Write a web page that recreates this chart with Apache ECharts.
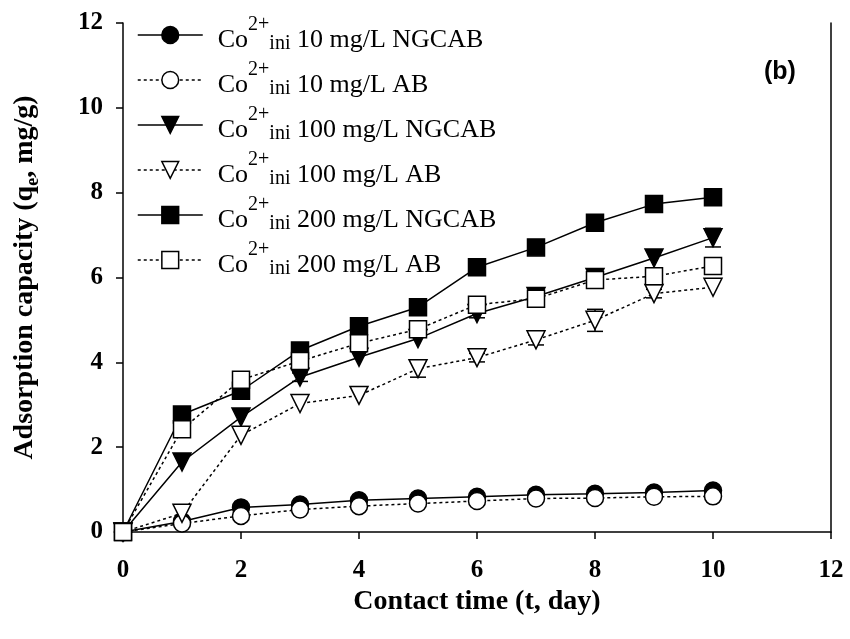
<!DOCTYPE html>
<html>
<head>
<meta charset="utf-8">
<script src="https://cdn.jsdelivr.net/npm/echarts@6/dist/echarts.min.js"></script>
<style>
html,body{margin:0;padding:0;background:#fff;}
#chart{width:850px;height:639px;}
</style>
</head>
<body>
<div id="chart"></div>
<script>
// ---- data ----
var days = [0, 1, 2, 3, 4, 5, 6, 7, 8, 9, 10];
var xTicks = [0, 2, 4, 6, 8, 10, 12];
var yTicks = [0, 2, 4, 6, 8, 10, 12];
var seriesNames = [
  'Co2+ini 10 mg/L NGCAB',
  'Co2+ini 10 mg/L AB',
  'Co2+ini 100 mg/L NGCAB',
  'Co2+ini 100 mg/L AB',
  'Co2+ini 200 mg/L NGCAB',
  'Co2+ini 200 mg/L AB'
];
var co10NGCAB  = [0, 0.25, 0.58, 0.65, 0.75, 0.79, 0.83, 0.88, 0.90, 0.93, 0.98];
var co10AB     = [0, 0.20, 0.38, 0.53, 0.61, 0.67, 0.73, 0.79, 0.80, 0.83, 0.84];
var co100NGCAB = [0, 1.65, 2.71, 3.65, 4.12, 4.56, 5.15, 5.55, 6.00, 6.46, 6.94];
var co100AB    = [0, 0.44, 2.28, 3.03, 3.22, 3.85, 4.11, 4.53, 4.99, 5.62, 5.77];
var co200NGCAB = [0, 2.77, 3.33, 4.28, 4.85, 5.30, 6.24, 6.71, 7.29, 7.73, 7.89];
var co200AB    = [0, 2.42, 3.59, 4.03, 4.45, 4.78, 5.36, 5.50, 5.94, 6.03, 6.27];
// error bars (only those visible in the figure)
var err100NGCAB = [0, 0, 0, 0.10, 0, 0, 0.10, 0, 0, 0, 0.22];
var err100AB    = [0, 0, 0, 0, 0, 0.20, 0.10, 0.12, 0.26, 0.10, 0];

var values = [co10NGCAB, co10AB, co100NGCAB, co100AB, co200NGCAB, co200AB];
var symbols = ['circle', 'circle', 'triangle', 'triangle', 'rect', 'rect'];
var filled = [true, false, true, false, true, false];
var rotations = [0, 0, 180, 180, 0, 0];
var sizes = [17, 17, 18, 18, 17, 17];

var serif = "'Liberation Serif','Times New Roman',serif";

function pairs(arr) { return days.map(function (d, i) { return [d, arr[i]]; }); }

var series = values.map(function (arr, k) {
  return {
    name: seriesNames[k],
    type: 'line',
    data: pairs(arr),
    symbol: symbols[k],
    symbolSize: sizes[k],
    symbolRotate: rotations[k],
    showAllSymbol: true,
    z: 3 + k,
    lineStyle: { color: '#000', width: 1.5, type: filled[k] ? 'solid' : [3, 3] },
    itemStyle: { color: filled[k] ? '#000' : '#fff', borderColor: '#000', borderWidth: 1.5 },
    emphasis: { disabled: true }
  };
});

var errData = [];
days.forEach(function (d, i) {
  if (err100NGCAB[i] > 0) errData.push([d, co100NGCAB[i], err100NGCAB[i]]);
  if (err100AB[i] > 0) errData.push([d, co100AB[i], err100AB[i]]);
});

series.push({
  type: 'custom',
  z: 2,
  data: errData,
  silent: true,
  renderItem: function (params, api) {
    var x = api.value(0), y = api.value(1), e = api.value(2);
    var t = api.coord([x, y + e]);
    var b = api.coord([x, y - e]);
    var w = 8;
    var st = { stroke: '#000', lineWidth: 1.5 };
    return {
      type: 'group',
      children: [
        { type: 'line', shape: { x1: t[0], y1: t[1], x2: b[0], y2: b[1] }, style: st },
        { type: 'line', shape: { x1: t[0] - w, y1: t[1], x2: t[0] + w, y2: t[1] }, style: st },
        { type: 'line', shape: { x1: b[0] - w, y1: b[1], x2: b[0] + w, y2: b[1] }, style: st }
      ]
    };
  }
});

var chart = echarts.init(document.getElementById('chart'), null, { renderer: 'canvas' });
chart.setOption({
  animation: false,
  backgroundColor: '#fff',
  grid: { left: 123, right: 19, top: 23, bottom: 107 },
  xAxis: {
    type: 'value',
    min: xTicks[0], max: xTicks[xTicks.length - 1], interval: xTicks[1] - xTicks[0],
    name: 'Contact time (t, day)',
    nameLocation: 'middle',
    nameGap: 52,
    nameTextStyle: { fontFamily: serif, fontWeight: 'bold', fontSize: 28, color: '#000' },
    axisLine: { show: true, onZero: false, lineStyle: { color: '#000', width: 1.5 } },
    axisTick: { show: true, inside: false, length: 7, lineStyle: { color: '#000', width: 1.5 } },
    axisLabel: { margin: 26, fontFamily: serif, fontWeight: 'bold', fontSize: 25, color: '#000' },
    splitLine: { show: false }
  },
  yAxis: [{
    type: 'value',
    min: yTicks[0], max: yTicks[yTicks.length - 1], interval: yTicks[1] - yTicks[0],
    name: '{a|Adsorption capacity (q}{s|e}{a|, mg/g)}',
    nameLocation: 'middle',
    nameGap: 80,
    nameRotate: 90,
    nameTextStyle: {
      color: '#000',
      rich: {
        a: { fontFamily: serif, fontWeight: 'bold', fontSize: 28, lineHeight: 30, padding: [0, 0, 6, 0], color: '#000' },
        s: { fontFamily: serif, fontWeight: 'bold', fontSize: 18, lineHeight: 18, padding: [14, 0, 4, 0], color: '#000' }
      }
    },
    axisLine: { show: true, onZero: false, lineStyle: { color: '#000', width: 1.5 } },
    axisTick: { show: true, inside: false, length: 7, lineStyle: { color: '#000', width: 1.5 } },
    axisLabel: { margin: 20, fontFamily: serif, fontWeight: 'bold', fontSize: 25, color: '#000' },
    splitLine: { show: false }
  }, {
    type: 'value',
    position: 'right',
    min: yTicks[0], max: yTicks[yTicks.length - 1], interval: yTicks[1] - yTicks[0],
    axisLine: { show: true, onZero: false, lineStyle: { color: '#000', width: 1.5 } },
    axisTick: { show: false },
    axisLabel: { show: false },
    splitLine: { show: false }
  }],
  legend: {
    data: seriesNames,
    orient: 'vertical',
    left: 137,
    top: 15,
    padding: 0,
    itemGap: 5,
    itemWidth: 65,
    itemHeight: 21,
    selectedMode: false,
    itemStyle: { borderWidth: 1.5 },
    lineStyle: { width: 1.5 },
    formatter: function (name) {
      return '{c|Co}{sup|2+}{sub|ini}{t|' + name.slice(7) + '}';
    },
    textStyle: {
      color: '#000',
      rich: {
        c: { fontFamily: serif, fontSize: 26, lineHeight: 26, padding: [12, 0, 2, 10], color: '#000' },
        sup: { fontFamily: serif, fontSize: 20, lineHeight: 20, padding: [0, 0, 20, 0], color: '#000' },
        sub: { fontFamily: serif, fontSize: 20, lineHeight: 20, padding: [19, 0, 1, 0], color: '#000' },
        t: { fontFamily: serif, fontSize: 26, lineHeight: 26, padding: [12, 0, 2, 0], color: '#000' }
      }
    }
  },
  graphic: [{
    type: 'text',
    left: 764, top: 60,
    style: {
      text: '(b)',
      font: "bold 25px 'Liberation Sans', Arial, sans-serif",
      fill: '#000'
    }
  }],
  series: series
});
</script>
</body>
</html>
